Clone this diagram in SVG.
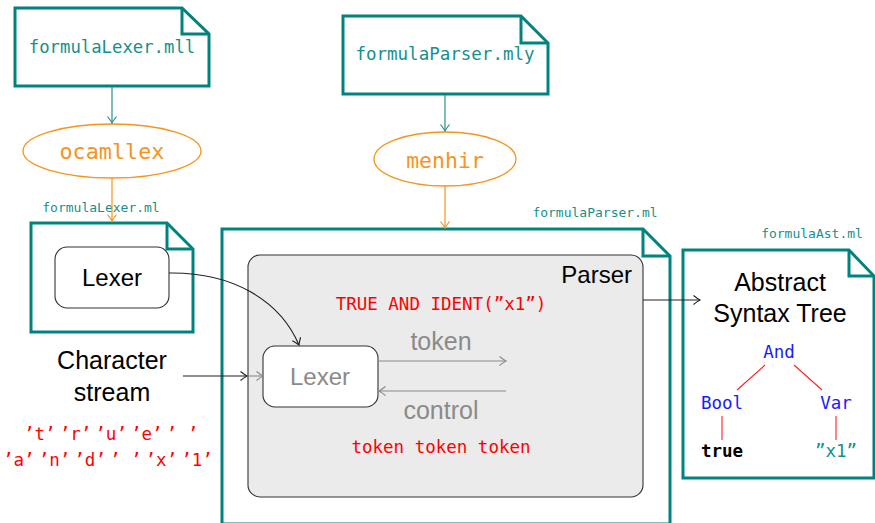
<svg xmlns="http://www.w3.org/2000/svg" width="875" height="523" viewBox="0 0 875 523">
  <defs>
    <style>
      .note { fill: #ffffff; stroke: #00837e; stroke-width: 3; stroke-linejoin: miter; }
      .fold { fill: none; stroke: #00837e; stroke-width: 3; }
      .mono { font-family: "DejaVu Sans Mono", "Liberation Mono", monospace; }
      .sans { font-family: "Liberation Sans", Arial, sans-serif; }
      .teal { fill: #16908a; }
      .orange { fill: #f7941d; }
      .red { fill: #ff0000; }
      .blue { fill: #1a1aff; }
      .gray { fill: #8a8a8a; }
      .tool { fill: #ffffff; stroke: #f7941d; stroke-width: 1.3; }
      .c-teal { fill: none; stroke: #2a8f8a; stroke-width: 1.2; marker-end: url(#ah-teal); }
      .c-orange { fill: none; stroke: #f7941d; stroke-width: 1.2; marker-end: url(#ah-orange); }
      .c-black { fill: none; stroke: #222222; stroke-width: 1.1; marker-end: url(#ah-black); }
      .c-gray { fill: none; stroke: #8a8a8a; stroke-width: 1.1; marker-end: url(#ah-gray); }
      .tree { stroke: #ff2020; stroke-width: 1.1; }
    </style>
    <marker id="ah-teal" markerUnits="userSpaceOnUse" viewBox="-8 -5 10 10" refX="0" refY="0" markerWidth="10" markerHeight="10" orient="auto">
      <path d="M-6.5,-4.5 Q-2,-1 0,0 Q-2,1 -6.5,4.5" fill="none" stroke="#2a8f8a" stroke-width="1.2"/>
    </marker>
    <marker id="ah-orange" markerUnits="userSpaceOnUse" viewBox="-8 -5 10 10" refX="0" refY="0" markerWidth="10" markerHeight="10" orient="auto">
      <path d="M-6.5,-4.5 Q-2,-1 0,0 Q-2,1 -6.5,4.5" fill="none" stroke="#f7941d" stroke-width="1.2"/>
    </marker>
    <marker id="ah-black" markerUnits="userSpaceOnUse" viewBox="-8 -5 10 10" refX="0" refY="0" markerWidth="10" markerHeight="10" orient="auto">
      <path d="M-6.5,-4.5 Q-2,-1 0,0 Q-2,1 -6.5,4.5" fill="none" stroke="#222222" stroke-width="1.1"/>
    </marker>
    <marker id="ah-gray" markerUnits="userSpaceOnUse" viewBox="-8 -5 10 10" refX="0" refY="0" markerWidth="10" markerHeight="10" orient="auto">
      <path d="M-6.5,-4.5 Q-2,-1 0,0 Q-2,1 -6.5,4.5" fill="none" stroke="#8a8a8a" stroke-width="1.1"/>
    </marker>
  </defs>

  <rect width="875" height="523" fill="#ffffff"/>

  <!-- lexer specification file -->
  <g id="lexer-spec">
    <path class="note" d="M15,8 H182 L209,34 V86 H15 Z"/>
    <path class="fold" d="M182,8 V34 H209"/>
    <text class="mono teal" x="112" y="53" font-size="17.3" text-anchor="middle">formulaLexer.mll</text>
  </g>

  <!-- ocamllex tool -->
  <g id="ocamllex">
    <ellipse class="tool" cx="112" cy="151" rx="89" ry="27"/>
    <text class="mono orange" x="112" y="159" font-size="21.8" text-anchor="middle">ocamllex</text>
  </g>

  <!-- parser specification file -->
  <g id="parser-spec">
    <path class="note" d="M343,16 H521 L548,43 V94 H343 Z"/>
    <path class="fold" d="M521,16 V43 H548"/>
    <text class="mono teal" x="445" y="60" font-size="17.5" text-anchor="middle">formulaParser.mly</text>
  </g>

  <!-- menhir tool -->
  <g id="menhir">
    <ellipse class="tool" cx="445" cy="159" rx="71" ry="27"/>
    <text class="mono orange" x="445" y="168" font-size="21.5" text-anchor="middle">menhir</text>
  </g>

  <!-- generated lexer module -->
  <g id="lexer-module">
    <text class="mono teal" x="101" y="212" font-size="13" text-anchor="middle">formulaLexer.ml</text>
    <path class="note" d="M31,223 H167 L193,249 V332 H31 Z"/>
    <path class="fold" d="M167,223 V249 H193"/>
    <rect x="55" y="247" width="114" height="61" rx="12" fill="#ffffff" stroke="#333333" stroke-width="1.1"/>
    <text class="sans" x="112" y="286" font-size="24" text-anchor="middle" fill="#000000">Lexer</text>
  </g>

  <!-- generated parser module -->
  <g id="parser-module">
    <text class="mono teal" x="595" y="217" font-size="13" text-anchor="middle">formulaParser.ml</text>
    <path class="note" d="M222,229 H643 L670,256 V524 H222 Z"/>
    <path class="fold" d="M643,229 V256 H670"/>
  </g>

  <!-- parser internals -->
  <g id="parser">
    <rect x="248" y="255" width="395" height="242" rx="12" fill="#ebebeb" stroke="#333333" stroke-width="1.1"/>
    <text class="sans" x="632" y="283" font-size="24" text-anchor="end" fill="#000000">Parser</text>
    <text class="mono red" x="441" y="310" font-size="17.5" text-anchor="middle">TRUE AND IDENT(”x1”)</text>
    <text class="sans gray" x="441" y="350" font-size="25" text-anchor="middle">token</text>
    <text class="sans gray" x="441" y="419" font-size="25" text-anchor="middle">control</text>
    <text class="mono red" x="441" y="453" font-size="17.5" text-anchor="middle">token token token</text>
  </g>

  <g id="inner-lexer">
    <rect x="263" y="346" width="115" height="61" rx="12" fill="#ffffff" stroke="#333333" stroke-width="1.1"/>
    <text class="sans gray" x="320" y="385" font-size="24" text-anchor="middle">Lexer</text>
  </g>

  <!-- input characters -->
  <g id="character-stream">
    <text class="sans" x="112" y="369" font-size="25" text-anchor="middle" fill="#000000">Character</text>
    <text class="sans" x="112" y="401" font-size="25" text-anchor="middle" fill="#000000">stream</text>
    <text class="mono red" x="24" y="440" font-size="17.5" dx="0 0 0 4 0 0 4 0 0 4 0 0 4 0 0">’t’’r’’u’’e’’ ’</text>
    <text class="mono red" x="3" y="466" font-size="17.5" dx="0 0 0 4 0 0 4 0 0 4 0 0 4 0 0 4 0 0">’a’’n’’d’’ ’’x’’1’</text>
  </g>

  <!-- syntax tree module -->
  <g id="ast-module">
    <text class="mono teal" x="812" y="238" font-size="13" text-anchor="middle">formulaAst.ml</text>
    <path class="note" d="M683,250 H849 L874,276 V478 H683 Z"/>
    <path class="fold" d="M849,250 V276 H874"/>
    <text class="sans" x="780" y="291" font-size="25" text-anchor="middle" fill="#000000">Abstract</text>
    <text class="sans" x="780" y="322" font-size="25" text-anchor="middle" fill="#000000">Syntax Tree</text>
    <line class="tree" x1="765" y1="365" x2="737" y2="390"/>
    <line class="tree" x1="794" y1="365" x2="822" y2="390"/>
    <line class="tree" x1="722" y1="416" x2="722" y2="440"/>
    <line class="tree" x1="836" y1="416" x2="836" y2="440" stroke="#ff6a6a"/>
    <text class="mono blue" x="779" y="358" font-size="17.5" text-anchor="middle">And</text>
    <text class="mono blue" x="722" y="409" font-size="17.5" text-anchor="middle">Bool</text>
    <text class="mono blue" x="836" y="409" font-size="17.5" text-anchor="middle">Var</text>
    <text class="mono" x="722" y="457" font-size="17.5" font-weight="bold" text-anchor="middle" fill="#000000">true</text>
    <text class="mono teal" x="836" y="457" font-size="17.5" text-anchor="middle">”x1”</text>
  </g>

  <!-- connectors -->
  <g id="connectors">
    <line class="c-teal" x1="112" y1="87" x2="112" y2="123"/>
    <line class="c-orange" x1="112" y1="178" x2="112" y2="221"/>
    <line class="c-teal" x1="445" y1="95" x2="445" y2="131"/>
    <line class="c-orange" x1="445" y1="186" x2="445" y2="228"/>
    <path class="c-black" d="M169,273 C232,272 280,300 299,345"/>
    <line class="c-black" x1="183" y1="376" x2="247" y2="376"/>
    <line class="c-gray" x1="248" y1="376" x2="263" y2="376"/>
    <line class="c-gray" x1="378" y1="361" x2="506" y2="361"/>
    <line class="c-gray" x1="506" y1="391" x2="379" y2="391"/>
    <line class="c-black" x1="643" y1="300" x2="700" y2="300"/>
  </g>
</svg>
